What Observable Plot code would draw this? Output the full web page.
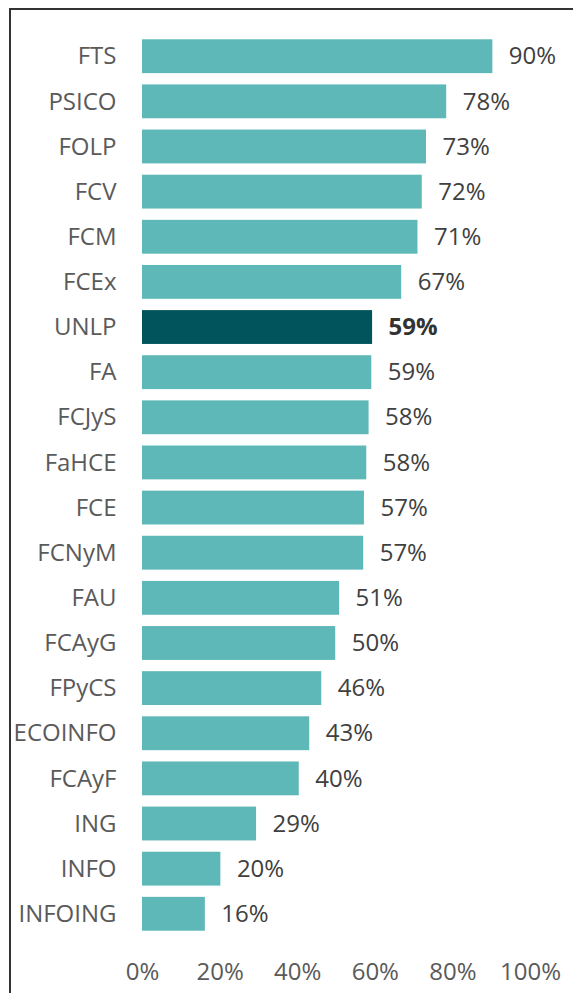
<!DOCTYPE html>
<html>
<head>
<meta charset="utf-8">
<script src="https://cdn.jsdelivr.net/npm/d3@7"></script>
<script src="https://cdn.jsdelivr.net/npm/@observablehq/plot@0.6"></script>
<style>
  html, body { margin: 0; padding: 0; background: #fff; }
  #wrap { position: relative; width: 573px; height: 993px; overflow: hidden; }
  #frame { position: absolute; left: 9px; top: 8px; right: -4px; bottom: -4px;
           border-left: 2px solid #333; border-top: 2px solid #333; pointer-events: none; }
  #chart { position: absolute; left: 0; top: 0; }
</style>
</head>
<body>
<div id="wrap"><div id="chart"></div><div id="frame"></div></div>
<script>
const categories = ["FTS","PSICO","FOLP","FCV","FCM","FCEx","UNLP","FA","FCJyS","FaHCE","FCE","FCNyM","FAU","FCAyG","FPyCS","ECOINFO","FCAyF","ING","INFO","INFOING"];
const values = [90.3,78.4,73.2,72.1,71.0,66.8,59.3,59.1,58.4,57.8,57.2,57.0,50.8,49.8,46.2,43.1,40.4,29.4,20.2,16.2];
const highlight = "UNLP";
const xTicks = [0,20,40,60,80,100];

const data = categories.map((c, i) => ({cat: c, value: values[i], label: Math.round(values[i]) + "%"}));

const chart = Plot.plot({
  width: 573,
  height: 993,
  marginLeft: 142,
  marginRight: 43,
  marginTop: 28,
  marginBottom: 51,
  style: {fontFamily: "'Open Sans', sans-serif", fontSize: "24px", background: "transparent", color: "#5a5a5a"},
  x: {domain: [0, 100], ticks: xTicks, tickFormat: d => d + "%", tickSize: 0, tickPadding: 20, label: null},
  y: {domain: categories, padding: 0.25, round: false, tickSize: 0, tickPadding: 26, label: null},
  marks: [
    Plot.barX(data, {x: "value", y: "cat", fill: d => d.cat === highlight ? "#02545c" : "#5eb8b8"}),
    Plot.text(data, {filter: d => d.cat !== highlight, x: "value", y: "cat", text: "label", textAnchor: "start", dx: 16,
      fill: "#404040", fontSize: 24}),
    Plot.text(data, {filter: d => d.cat === highlight, x: "value", y: "cat", text: "label", textAnchor: "start", dx: 16,
      fill: "#333", fontSize: 24, fontWeight: "bold"})
  ]
});
document.getElementById("chart").appendChild(chart);
</script>
</body>
</html>
